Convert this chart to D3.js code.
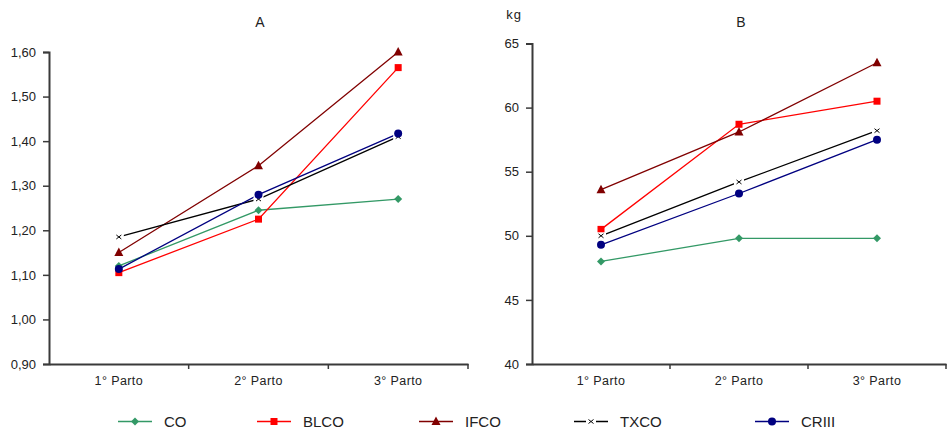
<!DOCTYPE html>
<html>
<head>
<meta charset="utf-8">
<script src="https://cdn.jsdelivr.net/npm/d3@7"></script>
<style>
  body { margin: 0; background: #fff; }
  svg { display: block; font-family: "Liberation Sans", Arial, sans-serif; }
</style>
</head>
<body>
<svg id="chart" width="947" height="432"></svg>
<script>
// ---- data ----
const categories = ["1° Parto", "2° Parto", "3° Parto"];
const seriesNames = ["CO", "BLCO", "IFCO", "TXCO", "CRIII"];
const seriesColors = ["#339966", "#FF0000", "#800000", "#000000", "#000080"];
const seriesMarkers = ["diamond", "square", "triangle", "cross", "circle"];

// Panel A values
const A_CO    = [1.12, 1.245, 1.27];
const A_BLCO  = [1.105, 1.225, 1.565];
const A_IFCO  = [1.15, 1.345, 1.60];
const A_TXCO  = [1.185, 1.27, 1.41];
const A_CRIII = [1.113, 1.28, 1.417];
const A_ticks = [0.90, 1.00, 1.10, 1.20, 1.30, 1.40, 1.50, 1.60];

// Panel B values (kg)
const B_CO    = [48.0, 49.8, 49.8];
const B_BLCO  = [50.5, 58.7, 60.5];
const B_IFCO  = [53.6, 58.1, 63.5];
const B_TXCO  = [50.0, 54.2, 58.2];
const B_CRIII = [49.3, 53.3, 57.5];
const B_ticks = [40, 45, 50, 55, 60, 65];

const svg = d3.select("#chart");
const axisColor = "#3a3a3a";

function drawMarker(g, type, x, y, color) {
  if (type === "diamond") {
    g.append("path").attr("d", `M${x},${y-4}L${x+4},${y}L${x},${y+4}L${x-4},${y}Z`).attr("fill", color);
  } else if (type === "square") {
    g.append("rect").attr("x", x-3.5).attr("y", y-3.5).attr("width", 7).attr("height", 7).attr("fill", color);
  } else if (type === "triangle") {
    g.append("path").attr("d", `M${x},${y-5}L${x+4.5},${y+3.5}L${x-4.5},${y+3.5}Z`).attr("fill", color);
  } else if (type === "circle") {
    g.append("circle").attr("cx", x).attr("cy", y).attr("r", 4).attr("fill", color);
  } else if (type === "cross") {
    g.append("rect").attr("x", x-5).attr("y", y-3.5).attr("width", 10).attr("height", 7).attr("fill", "#fff");
    g.append("path").attr("d", `M${x-2.5},${y-2}L${x+2.5},${y+2}M${x-2.5},${y+2}L${x+2.5},${y-2}`)
      .attr("stroke", color).attr("stroke-width", 1).attr("fill", "none");
  }
}

function panel(opts) {
  const { x0, x1, yTop, yBot, domain, ticks, fmt, series, title, titleX, unit } = opts;
  const g = svg.append("g");
  const x = d3.scaleBand().domain(categories).range([x0, x1]).padding(0);
  const y = d3.scaleLinear().domain(domain).range([yBot, yTop]);

  // y axis
  const yAxis = d3.axisLeft(y).tickValues(ticks).tickFormat(fmt).tickSize(6).tickPadding(7);
  const ya = g.append("g").attr("transform", `translate(${x0},0)`).call(yAxis);
  ya.select(".domain").attr("stroke", axisColor).attr("stroke-width", 2);
  ya.selectAll(".tick line").attr("stroke", axisColor).attr("stroke-width", 1.5);
  ya.selectAll(".tick text").attr("font-size", 13).attr("fill", "#222")
    .attr("font-family", "'Liberation Sans', Arial, sans-serif");

  // x axis (labels only, ticks at band boundaries)
  const xAxis = d3.axisBottom(x).tickSize(0).tickPadding(12);
  const xa = g.append("g").attr("transform", `translate(0,${yBot})`).call(xAxis);
  xa.select(".domain").attr("stroke", axisColor).attr("stroke-width", 2);
  xa.selectAll(".tick text").attr("font-size", 12.5).attr("fill", "#222").attr("letter-spacing", 0.4)
    .attr("font-family", "'Liberation Sans', Arial, sans-serif");
  g.selectAll(".btick").data(categories).join("line").attr("class", "btick")
    .attr("x1", d => x(d) + x.bandwidth()).attr("x2", d => x(d) + x.bandwidth())
    .attr("y1", yBot).attr("y2", yBot + 5)
    .attr("stroke", axisColor).attr("stroke-width", 1.5);

  // series
  const line = d3.line().x((d, i) => x(categories[i]) + x.bandwidth() / 2).y(d => y(d));
  series.forEach((vals, si) => {
    const color = seriesColors[si];
    g.append("path").datum(vals).attr("d", line).attr("fill", "none")
      .attr("stroke", color).attr("stroke-width", 1.3);
  });
  series.forEach((vals, si) => {
    vals.forEach((v, i) => {
      drawMarker(g, seriesMarkers[si], x(categories[i]) + x.bandwidth() / 2, y(v), seriesColors[si]);
    });
  });

  // title
  g.append("text").attr("x", titleX).attr("y", 27).attr("text-anchor", "middle")
    .attr("font-size", 14).attr("fill", "#222").text(title);
  if (unit) {
    g.append("text").attr("x", x0 - 10).attr("y", 19).attr("text-anchor", "end")
      .attr("font-size", 13).attr("fill", "#222").attr("letter-spacing", 1).text(unit);
  }
}

panel({
  x0: 49, x1: 468, yTop: 52, yBot: 364, domain: [0.9, 1.6], ticks: A_ticks,
  fmt: d => d3.format(".2f")(d).replace(".", ","),
  series: [A_CO, A_BLCO, A_IFCO, A_TXCO, A_CRIII], title: "A", titleX: 260
});
panel({
  x0: 532, x1: 946, yTop: 43.5, yBot: 364, domain: [40, 65], ticks: B_ticks,
  fmt: d3.format("d"),
  series: [B_CO, B_BLCO, B_IFCO, B_TXCO, B_CRIII], title: "B", titleX: 741, unit: "kg"
});

// legend
const legendX = [118, 257, 419, 574, 755];
const leg = svg.append("g");
seriesNames.forEach((name, i) => {
  const lx = legendX[i], ly = 421.5;
  leg.append("line").attr("x1", lx).attr("x2", lx + 34).attr("y1", ly).attr("y2", ly)
    .attr("stroke", seriesColors[i]).attr("stroke-width", 1.5);
  drawMarker(leg, seriesMarkers[i], lx + 17, ly, seriesColors[i]);
  leg.append("text").attr("x", lx + 46).attr("y", ly + 5.5).attr("font-size", 15)
    .attr("fill", "#222").text(name);
});
</script>
</body>
</html>
